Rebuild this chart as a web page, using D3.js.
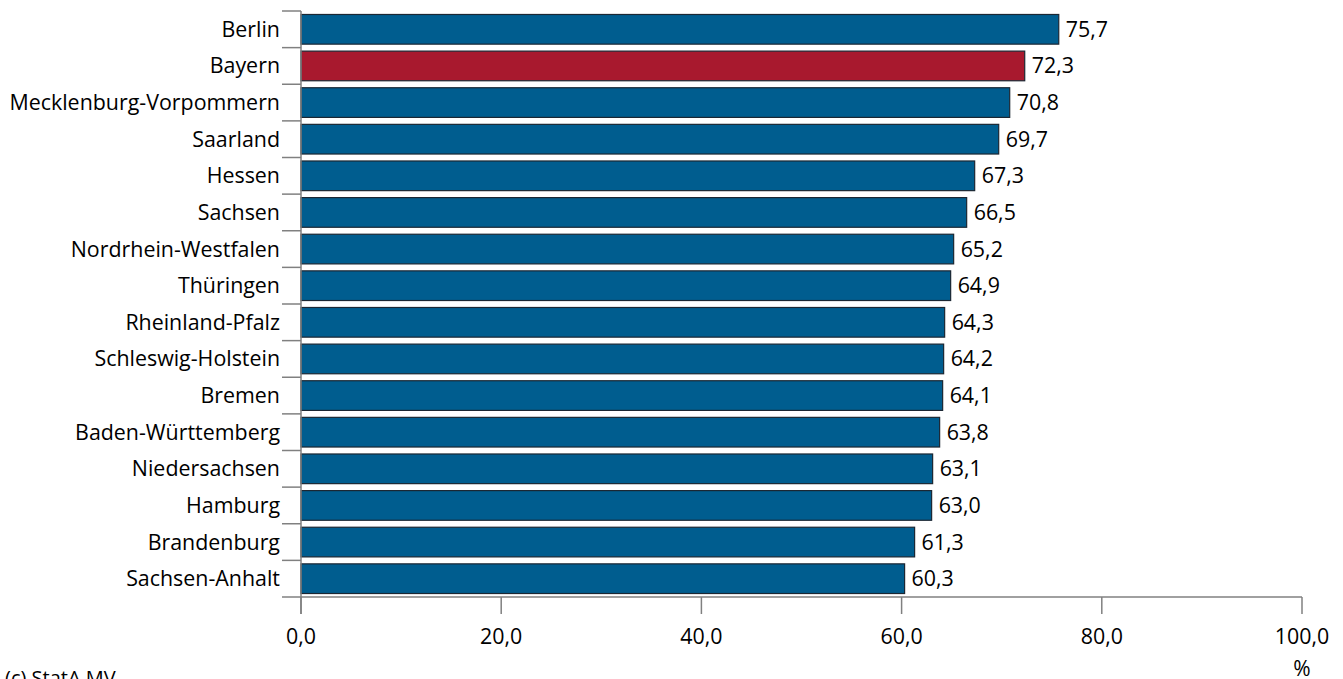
<!DOCTYPE html>
<html><head><meta charset="utf-8">
<script src="https://cdn.jsdelivr.net/npm/d3@7"></script>
<style>body{margin:0;background:#fff;}svg{display:block;}text{font-family:"Open Sans",sans-serif;fill:#000;}</style>
</head><body>
<svg id="c" width="1343" height="679"></svg>
<script>
const categories = ["Berlin","Bayern","Mecklenburg-Vorpommern","Saarland","Hessen","Sachsen","Nordrhein-Westfalen","Thüringen","Rheinland-Pfalz","Schleswig-Holstein","Bremen","Baden-Württemberg","Niedersachsen","Hamburg","Brandenburg","Sachsen-Anhalt"];
const values = [75.7,72.3,70.8,69.7,67.3,66.5,65.2,64.9,64.3,64.2,64.1,63.8,63.1,63.0,61.3,60.3];
const highlight = ["Bayern"];
const xTicks = [0,20,40,60,80,100];
const unitLabel = "%";
const sourceLabel = "(c) StatA MV";

const svg = d3.select("#c");
const mLeft = 301, mRight = 1302, mTop = 11, mBottom = 597;
const x = d3.scaleLinear().domain([0,100]).range([mLeft,mRight]);
const y = d3.scaleBand().domain(categories).range([mTop,mBottom]).paddingInner(0.19).paddingOuter(0.095);
const fmt = v => d3.format(".1f")(v).replace(".", ",");
const axisColor = "#808080";
const fs = "21.4px";

// bars
svg.selectAll("rect.bar").data(categories).join("rect")
  .attr("class","bar")
  .attr("x", x(0))
  .attr("y", d => y(d))
  .attr("width", (d,i) => x(values[i]) - x(0))
  .attr("height", y.bandwidth())
  .attr("fill", d => highlight.includes(d) ? "#a8192e" : "#005d8f")
  .attr("stroke", "#1b2733").attr("stroke-width", 1.2);

// value labels
svg.selectAll("text.val").data(categories).join("text")
  .attr("class","val")
  .attr("x", (d,i) => x(values[i]) + 7)
  .attr("y", d => y(d) + y.bandwidth()/2)
  .attr("dy","0.35em")
  .style("font-size",fs)
  .text((d,i) => fmt(values[i]));

// y axis
const step = y.step();
const bounds = d3.range(categories.length + 1).map(i => mTop + i*step);
const gy = svg.append("g");
gy.append("line").attr("x1",mLeft).attr("x2",mLeft).attr("y1",mTop).attr("y2",mBottom+17)
  .attr("stroke",axisColor).attr("stroke-width",1.5);
gy.selectAll("line.t").data(bounds).join("line").attr("class","t")
  .attr("x1",mLeft-19).attr("x2",mLeft).attr("y1",d=>d).attr("y2",d=>d)
  .attr("stroke",axisColor).attr("stroke-width",1.5);
gy.selectAll("text").data(categories).join("text")
  .attr("x", mLeft-21)
  .attr("y", d => y(d) + y.bandwidth()/2)
  .attr("dy","0.35em")
  .attr("text-anchor","end")
  .style("font-size",fs)
  .text(d=>d);

// x axis
const gx = svg.append("g");
gx.append("line").attr("x1",mLeft).attr("x2",mRight).attr("y1",mBottom).attr("y2",mBottom)
  .attr("stroke",axisColor).attr("stroke-width",1.5);
gx.selectAll("line.t").data(xTicks).join("line").attr("class","t")
  .attr("x1",d=>x(d)).attr("x2",d=>x(d)).attr("y1",mBottom).attr("y2",mBottom+17)
  .attr("stroke",axisColor).attr("stroke-width",1.5);
gx.selectAll("text").data(xTicks).join("text")
  .attr("x",d=>x(d)).attr("y",mBottom+40)
  .attr("dy","0.35em")
  .attr("text-anchor","middle")
  .style("font-size",fs)
  .text(d=>fmt(d));

svg.append("text").attr("x", x(100)).attr("y", 669).attr("dy","0.35em")
  .attr("text-anchor","middle").style("font-size","21px").text(unitLabel);
svg.append("text").attr("x", 5).attr("y", 685)
  .style("font-size","20px").text(sourceLabel);
</script>
</body></html>
